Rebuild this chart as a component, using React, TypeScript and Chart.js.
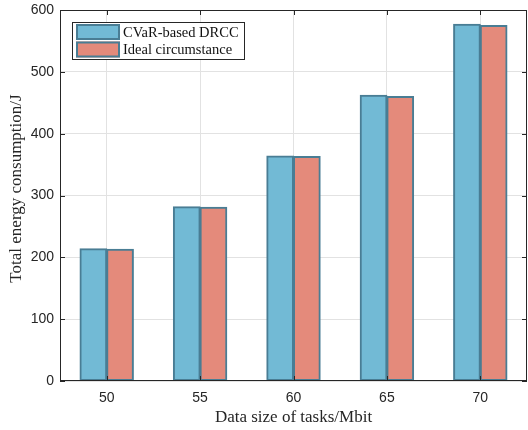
import React, { useEffect, useRef } from "react";
import { Chart, registerables } from "chart.js";

Chart.register(...registerables);

const categories = ["50", "55", "60", "65", "70"];
const cvarValues = [214, 282, 364, 462, 577];
const idealValues = [213, 281, 363, 460, 575];
const yTicks = [0, 100, 200, 300, 400, 500, 600];
const seriesLabels = ["CVaR-based DRCC", "Ideal circumstance"];
const xTitle = "Data size of tasks/Mbit";
const yTitle = "Total energy consumption/J";

const INK = "#262626";
const SERIF = "'Liberation Serif', 'Times New Roman', serif";

const framePlugin = {
  id: "matlabFrame",
  afterDraw(chart: any) {
    const { ctx, chartArea } = chart;
    const { left, right, top, bottom } = chartArea;
    const xs = chart.scales.x;
    const ys = chart.scales.y;
    ctx.save();
    ctx.strokeStyle = INK;
    ctx.lineWidth = 1;
    ctx.strokeRect(left + 0.5, top + 0.5, right - left - 1, bottom - top - 1);
    const tl = 5;
    ctx.beginPath();
    for (let i = 0; i < categories.length; i++) {
      const x = Math.round(xs.getPixelForValue(i)) + 0.5;
      ctx.moveTo(x, bottom);
      ctx.lineTo(x, bottom - tl);
      ctx.moveTo(x, top);
      ctx.lineTo(x, top + tl);
    }
    for (const v of yTicks) {
      const y = Math.round(ys.getPixelForValue(v)) + 0.5;
      ctx.moveTo(left, y);
      ctx.lineTo(left + tl, y);
      ctx.moveTo(right, y);
      ctx.lineTo(right - tl, y);
    }
    ctx.stroke();

    // y-axis title (MATLAB centres it slightly above the axis middle)
    ctx.save();
    ctx.translate(17, (top + bottom) / 2 - 7);
    ctx.rotate(-Math.PI / 2);
    ctx.fillStyle = INK;
    ctx.font = `17px ${SERIF}`;
    ctx.textAlign = "center";
    ctx.textBaseline = "middle";
    ctx.fillText(yTitle, 0, 0);
    ctx.restore();

    // legend
    const lx = 72, ly = 22, lw = 172, lh = 37;
    ctx.fillStyle = "#ffffff";
    ctx.fillRect(lx, ly, lw, lh);
    ctx.strokeStyle = INK;
    ctx.lineWidth = 1;
    ctx.strokeRect(lx + 0.5, ly + 0.5, lw, lh);
    ctx.font = `14.5px ${SERIF}`;
    ctx.textBaseline = "middle";
    chart.data.datasets.forEach((ds: any, i: number) => {
      const sx = 76, sy = 24 + i * 17.5, sw = 44, sh = 16;
      ctx.fillStyle = ds.backgroundColor;
      ctx.fillRect(sx, sy, sw, sh);
      ctx.strokeStyle = ds.borderColor;
      ctx.lineWidth = 2;
      ctx.strokeRect(sx + 1, sy + 1, sw - 2, sh - 2);
      ctx.fillStyle = "#111111";
      ctx.fillText(ds.label, 123, sy + sh / 2 + 1);
    });
    ctx.restore();
  },
};

export default function App() {
  const ref = useRef<HTMLCanvasElement | null>(null);
  useEffect(() => {
    document.body.style.margin = "0";
    const canvas = ref.current!;
    const chart = new Chart(canvas, {
      type: "bar",
      data: {
        labels: categories,
        datasets: [
          {
            label: seriesLabels[0],
            data: cvarValues,
            backgroundColor: "#72BAD5",
            borderColor: "#497D94",
            borderWidth: 2,
            borderSkipped: false,
            inflateAmount: 0.5,
          },
          {
            label: seriesLabels[1],
            data: idealValues,
            backgroundColor: "#E48A7B",
            borderColor: "#497D94",
            borderWidth: 2,
            borderSkipped: false,
            inflateAmount: 0.5,
          },
        ],
      },
      options: {
        responsive: false,
        animation: false,
        devicePixelRatio: 1,
        layout: { padding: { top: 10, right: 1, left: 0, bottom: 0 } },
        datasets: { bar: { categoryPercentage: 0.572, barPercentage: 1 } },
        plugins: { legend: { display: false }, tooltip: { enabled: false } },
        scales: {
          x: {
            type: "category",
            offset: true,
            grid: { offset: false, color: "#e2e2e2", drawTicks: false },
            border: { display: false },
            ticks: {
              color: INK,
              padding: 9,
              font: { family: "'Liberation Sans', Arial, sans-serif", size: 14 },
            },
            title: {
              display: true,
              text: xTitle,
              color: INK,
              padding: { top: 0, bottom: 2 },
              font: { family: SERIF, size: 17 },
            },
            afterFit(scale: any) {
              scale.height = 49;
              scale.paddingLeft = 0;
              scale.paddingRight = 0;
            },
          },
          y: {
            min: 0,
            max: 600,
            grid: { color: "#e2e2e2", drawTicks: false },
            border: { display: false },
            ticks: {
              stepSize: 100,
              color: INK,
              padding: 6,
              font: { family: "'Liberation Sans', Arial, sans-serif", size: 14 },
            },
            title: { display: false },
            afterFit(scale: any) {
              scale.width = 60;
              scale.paddingTop = 0;
              scale.paddingBottom = 0;
            },
          },
        },
      },
      plugins: [framePlugin],
    } as any);
    return () => chart.destroy();
  }, []);
  return (
    <div style={{ width: 528, height: 430 }}>
      <canvas ref={ref} width={528} height={430} />
    </div>
  );
}
